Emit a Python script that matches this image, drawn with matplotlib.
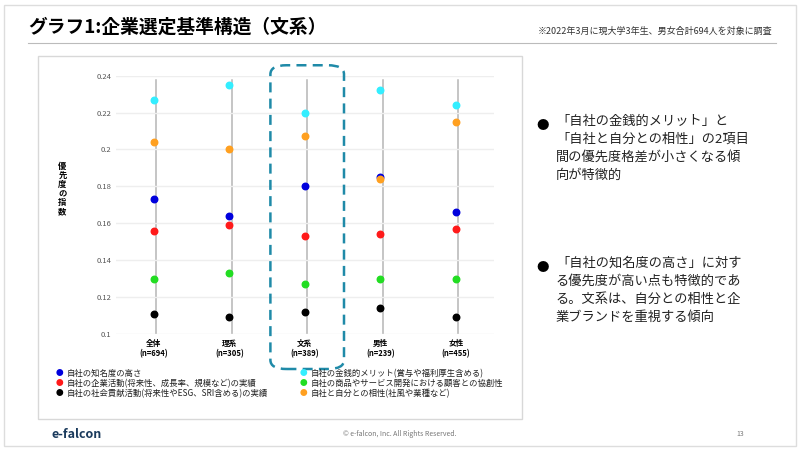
import matplotlib
matplotlib.use("Agg")
import matplotlib.pyplot as plt
from matplotlib.patches import FancyBboxPatch, Rectangle
plt.rcParams['font.family'] = ['Noto Sans CJK JP']

categories = ["全体\n(n=694)", "理系\n(n=305)", "文系\n(n=389)", "男性\n(n=239)", "女性\n(n=455)"]
series_names = ["自社の知名度の高さ", "自社の企業活動(将来性、成長率、規模など)の実績",
                "自社の社会貢献活動(将来性やESG、SRI含める)の実績", "自社の金銭的メリット(賞与や福利厚生含める)",
                "自社の商品やサービス開発における顧客との協創性", "自社と自分との相性(社風や業種など)"]
blue = [0.173, 0.164, 0.180, 0.185, 0.166]
red = [0.156, 0.159, 0.153, 0.154, 0.157]
black = [0.111, 0.109, 0.112, 0.114, 0.109]
cyan = [0.227, 0.235, 0.220, 0.232, 0.224]
green = [0.130, 0.133, 0.127, 0.130, 0.130]
orange = [0.204, 0.200, 0.207, 0.184, 0.215]
yticks = [0.1, 0.12, 0.14, 0.16, 0.18, 0.2, 0.22, 0.24]

series = [blue, red, black, cyan, green, orange]
colors = ["#0000dd", "#ff1a1a", "#000000", "#33eeff", "#22dd22", "#ffa020"]

fig = plt.figure(figsize=(8, 4.5), dpi=100)
fig.patch.set_facecolor("white")
fig.add_artist(Rectangle((0.005, 0.01), 0.99, 0.98, transform=fig.transFigure, fill=False, ec="#dddddd", lw=1))
fig.text(0.035, 0.94, "グラフ1:企業選定基準構造（文系）", fontsize=13.5, fontweight="bold", va="center")
fig.add_artist(plt.Line2D([0.035, 0.97], [0.905, 0.905], color="#bbbbbb", lw=0.8, transform=fig.transFigure))
fig.text(0.965, 0.93, "※2022年3月に現大学3年生、男女合計694人を対象に調査", fontsize=6.5, ha="right", va="center", color="#333333")
fig.add_artist(Rectangle((0.048, 0.07), 0.605, 0.805, transform=fig.transFigure, fill=False, ec="#d8d8d8", lw=1))

ax = fig.add_axes([0.145, 0.258, 0.472, 0.574])
x = list(range(len(categories)))
for xi in x:
    ax.plot([xi + 0.03, xi + 0.03], [0.1, 0.2375], color="#b5b5b5", lw=1.1, zorder=1)
for vals, c in zip(series, colors):
    ax.scatter(x, vals, color=c, s=22, zorder=3)
ax.set_ylim(0.1, 0.24)
ax.set_xlim(-0.5, 4.5)
ax.set_yticks(yticks)
ax.set_yticklabels([f"{v:g}" for v in yticks], fontsize=5.5, color="#555555")
ax.set_xticks(x)
ax.set_xticklabels(categories, fontsize=5.5, fontweight="bold")
ax.grid(axis="y", color="#eeeeee", lw=1)
for s in ax.spines.values():
    s.set_visible(False)
ax.tick_params(length=0)
fig.text(0.078, 0.58, "\n".join("優先度の指数"), fontsize=6, fontweight="bold", ha="center", va="center", linespacing=1.0)

box = FancyBboxPatch((0.338, 0.18), 0.092, 0.675, transform=fig.transFigure,
                     boxstyle="round,pad=0,rounding_size=0.02", fill=False, ec="#1f8aa8", lw=1.8, ls=(0, (4, 2.5)))
fig.add_artist(box)

lx = [0.07, 0.375]
ly = [0.17, 0.148, 0.126]
order = [(0, 0, 0), (1, 0, 1), (2, 0, 2), (3, 1, 0), (4, 1, 1), (5, 1, 2)]
for i, col, row in order:
    fig.text(lx[col], ly[row], "●", color=colors[i], fontsize=5.5, va="center")
    fig.text(lx[col] + 0.013, ly[row], series_names[i], fontsize=6, va="center", color="#222222")

fig.text(0.67, 0.72, "●", fontsize=9, va="center")
fig.text(0.695, 0.745, "「自社の金銭的メリット」と\n「自社と自分との相性」の2項目\n間の優先度格差が小さくなる傾\n向が特徴的",
         fontsize=9.5, va="top", ha="left", linespacing=1.5, color="#222222")
fig.text(0.67, 0.405, "●", fontsize=9, va="center")
fig.text(0.695, 0.43, "「自社の知名度の高さ」に対す\nる優先度が高い点も特徴的であ\nる。文系は、自分との相性と企\n業ブランドを重視する傾向",
         fontsize=9.5, va="top", ha="left", linespacing=1.5, color="#222222")

fig.text(0.065, 0.035, "e-falcon", fontsize=9, fontweight="bold", color="#1a3a5c", va="center")
fig.text(0.5, 0.035, "© e-falcon, Inc. All Rights Reserved.", fontsize=5, color="#777777", ha="center", va="center")
fig.text(0.925, 0.035, "13", fontsize=5, color="#777777", ha="center", va="center")

fig.savefig("out.png", dpi=100)
